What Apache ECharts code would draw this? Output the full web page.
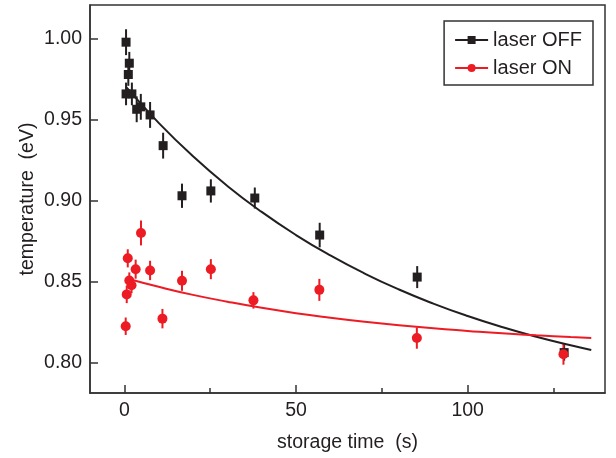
<!DOCTYPE html>
<html><head><meta charset="utf-8">
<script src="https://cdn.jsdelivr.net/npm/echarts@6/dist/echarts.min.js"></script>
<style>html,body{margin:0;padding:0;background:#fff}#c{width:616px;height:458px}</style>
</head><body><div id="c"></div>
<script>
// laser OFF data (squares)
var offX = [0.5, 1.45, 1.16, 0.5, 2.2, 3.6, 4.8, 7.5, 11.3, 16.8, 25.2, 38.0, 56.9, 85.3, 128.1];
var offY = [0.998, 0.985, 0.978, 0.966, 0.966, 0.9565, 0.958, 0.953, 0.934, 0.903, 0.906, 0.9016, 0.8787, 0.8527, 0.806];
var offErr = [0.008, 0.007, 0.007, 0.007, 0.007, 0.008, 0.008, 0.008, 0.008, 0.0075, 0.0072, 0.0065, 0.0076, 0.0068, 0.005];
// laser ON data (circles)
var onX = [4.85, 1.0, 3.3, 7.5, 1.45, 2.1, 0.7, 16.8, 25.2, 11.1, 0.4, 37.6, 56.8, 85.2, 127.9];
var onY = [0.880, 0.8643, 0.8576, 0.8568, 0.8506, 0.8477, 0.842, 0.8504, 0.8576, 0.827, 0.8223, 0.8383, 0.8448, 0.815, 0.805];
var onErr = [0.0077, 0.0056, 0.0059, 0.006, 0.005, 0.005, 0.0054, 0.0062, 0.0062, 0.006, 0.0054, 0.0051, 0.0068, 0.0066, 0.0065];
// fitted curves
var fitOffX = [0.5, 10, 20, 30, 40, 50, 60, 70, 80, 90, 100, 110, 120, 130, 136];
var fitOffY = [0.9703, 0.9481, 0.9274, 0.9091, 0.8930, 0.8787, 0.8661, 0.8549, 0.8450, 0.8363, 0.8286, 0.8218, 0.8158, 0.8105, 0.8076];
var fitOnX = [0.5, 10, 20, 30, 40, 50, 60, 70, 80, 90, 100, 110, 120, 130, 136];
var fitOnY = [0.8520, 0.8467, 0.8417, 0.8375, 0.8337, 0.8304, 0.8276, 0.8251, 0.8229, 0.8210, 0.8194, 0.8179, 0.8167, 0.8156, 0.8150];
// axis ticks
var xMajorTicks = [0, 50, 100];
var xMinorTicks = [25, 75, 125];
var yTicks = [0.80, 0.85, 0.90, 0.95, 1.00];

var BLACK = '#231f20', RED = '#ed1c24';
var FONT = 'Liberation Sans, Arial, Helvetica, sans-serif';
var FS = 19.5;

function zip(a, b) { return a.map(function (v, i) { return [v, b[i]]; }); }
function errData(x, y, e) { return x.map(function (v, i) { return [v, y[i], e[i]]; }); }
function errRender(color) {
  return function (params, api) {
    var x = api.value(0), y = api.value(1), e = api.value(2);
    var p1 = api.coord([x, y - e]), p2 = api.coord([x, y + e]);
    return { type: 'line', shape: { x1: p1[0], y1: p1[1], x2: p2[0], y2: p2[1] },
      style: { stroke: color, lineWidth: 2 } };
  };
}

var chart = echarts.init(document.getElementById('c'), null, { renderer: 'canvas' });
chart.setOption({
  animation: false,
  textStyle: { fontFamily: FONT },
  grid: { left: 90, top: 5, right: 11, bottom: 65, show: true, borderColor: '#333', borderWidth: 1.5, backgroundColor: 'transparent' },
  legend: {
    orient: 'vertical', right: 23, top: 21,
    borderColor: '#333', borderWidth: 1.5, padding: [9, 11, 7, 10],
    itemGap: 8, itemWidth: 33, itemHeight: 10,
    textStyle: { fontSize: 20, color: BLACK, fontFamily: FONT },
    data: ['laser OFF', 'laser ON']
  },
  xAxis: [{
    type: 'value', min: -10, max: 140,
    axisLine: { show: true, onZero: false, lineStyle: { color: '#333', width: 1.5 } },
    axisTick: { show: true, inside: true, length: 8, customValues: xMajorTicks, lineStyle: { color: '#333', width: 1.5 } },
    axisLabel: { show: true, customValues: xMajorTicks, margin: 8, fontSize: FS, color: BLACK, fontFamily: FONT },
    splitLine: { show: false },
    name: 'storage time  (s)', nameLocation: 'middle', nameGap: 40, nameMoveOverlap: false,
    nameTextStyle: { fontSize: FS, color: BLACK, fontFamily: FONT }
  }, {
    type: 'value', min: -10, max: 140, position: 'bottom',
    axisLine: { show: false },
    axisTick: { show: true, inside: true, length: 5, customValues: xMinorTicks, lineStyle: { color: '#333', width: 1.5 } },
    axisLabel: { show: false }, splitLine: { show: false }
  }],
  yAxis: {
    type: 'value', min: 0.781, max: 1.021,
    axisLine: { show: true, onZero: false, lineStyle: { color: '#333', width: 1.5 } },
    axisTick: { show: true, inside: true, length: 8, customValues: yTicks, lineStyle: { color: '#333', width: 1.5 } },
    axisLabel: { show: true, customValues: yTicks, margin: 8, fontSize: FS, color: BLACK, fontFamily: FONT,
      formatter: function (v) { return v.toFixed(2); } },
    splitLine: { show: false },
    name: 'temperature  (eV)', nameLocation: 'middle', nameGap: 52, nameMoveOverlap: false,
    nameTextStyle: { fontSize: FS, color: BLACK, fontFamily: FONT }
  },
  series: [
    { name: 'laser OFF', type: 'line', data: zip(fitOffX, fitOffY), smooth: true, symbol: 'rect', symbolSize: 9, showSymbol: false,
      itemStyle: { color: BLACK }, lineStyle: { color: BLACK, width: 2 }, z: 3 },
    { name: 'laser ON', type: 'line', data: zip(fitOnX, fitOnY), smooth: true, symbol: 'circle', symbolSize: 10, showSymbol: false,
      itemStyle: { color: RED }, lineStyle: { color: RED, width: 2 }, z: 3 },
    { type: 'custom', data: errData(offX, offY, offErr), renderItem: errRender(BLACK), z: 2, silent: true },
    { type: 'custom', data: errData(onX, onY, onErr), renderItem: errRender(RED), z: 2, silent: true },
    { name: 'laser OFF', type: 'scatter', data: zip(offX, offY), symbol: 'rect', symbolSize: 9, itemStyle: { color: BLACK, opacity: 1 }, z: 4 },
    { name: 'laser ON', type: 'scatter', data: zip(onX, onY), symbol: 'circle', symbolSize: 10, itemStyle: { color: RED, opacity: 1 }, z: 5 }
  ]
});
</script></body></html>
